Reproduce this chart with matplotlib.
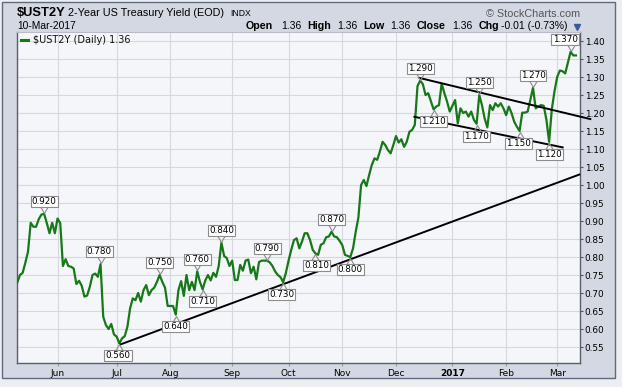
import numpy as np
import pandas as pd
import matplotlib
matplotlib.use("Agg")
import matplotlib.pyplot as plt
from matplotlib.path import Path
from matplotlib.patches import Rectangle

W, H = 622, 387

# ---- data: $UST2Y daily close, 2016-05-10 .. 2017-03-10 (bond-market trading days) ----
start_date, end_date = "2016-05-10", "2017-03-10"
holidays = ["2016-05-30", "2016-07-04", "2016-09-05", "2016-10-10", "2016-11-11",
            "2016-11-24", "2016-12-26", "2017-01-02", "2017-01-16", "2017-02-20"]
ust2y = [
    0.729, 0.750, 0.756, 0.784, 0.815, 0.895, 0.884, 0.884, 0.905, 0.918,  # 0
    0.920, 0.894, 0.866, 0.895, 0.866, 0.907, 0.894, 0.775, 0.794, 0.775,  # 10
    0.773, 0.768, 0.725, 0.734, 0.720, 0.690, 0.693, 0.717, 0.750, 0.754,  # 20
    0.745, 0.780, 0.634, 0.611, 0.600, 0.614, 0.585, 0.579, 0.560, 0.574,  # 30
    0.580, 0.606, 0.657, 0.685, 0.680, 0.700, 0.676, 0.708, 0.722, 0.694,  # 40
    0.708, 0.715, 0.731, 0.750, 0.731, 0.715, 0.664, 0.664, 0.664, 0.640,  # 50
    0.708, 0.733, 0.692, 0.750, 0.708, 0.731, 0.708, 0.760, 0.731, 0.710,  # 60
    0.735, 0.750, 0.735, 0.756, 0.745, 0.775, 0.840, 0.803, 0.797, 0.775,  # 70
    0.790, 0.736, 0.736, 0.778, 0.762, 0.790, 0.793, 0.755, 0.773, 0.738,  # 80
    0.786, 0.790, 0.790, 0.790, 0.785, 0.775, 0.760, 0.750, 0.744, 0.730,  # 90
    0.756, 0.790, 0.820, 0.847, 0.852, 0.824, 0.843, 0.866, 0.866, 0.847,  # 100
    0.820, 0.810, 0.806, 0.834, 0.838, 0.855, 0.857, 0.870, 0.857, 0.855,  # 110
    0.845, 0.833, 0.806, 0.803, 0.800, 0.824, 0.870, 0.910, 1.000, 1.014,  # 120
    0.997, 1.028, 1.056, 1.074, 1.070, 1.093, 1.120, 1.111, 1.097, 1.088,  # 130
    1.111, 1.136, 1.118, 1.127, 1.106, 1.120, 1.148, 1.153, 1.167, 1.275,  # 140
    1.290, 1.280, 1.250, 1.255, 1.232, 1.210, 1.218, 1.222, 1.282, 1.255,  # 150
    1.232, 1.204, 1.220, 1.236, 1.171, 1.213, 1.200, 1.204, 1.190, 1.204,  # 160
    1.181, 1.170, 1.250, 1.222, 1.185, 1.160, 1.222, 1.208, 1.227, 1.218,  # 170
    1.227, 1.213, 1.194, 1.218, 1.200, 1.176, 1.162, 1.150, 1.201, 1.201,  # 180
    1.204, 1.236, 1.270, 1.213, 1.218, 1.222, 1.220, 1.181, 1.120, 1.210,  # 190
    1.260, 1.300, 1.318, 1.316, 1.310, 1.340, 1.370, 1.360, 1.360,          # 200
]

# chartist annotations (trading-day index, text, above/below, horizontal shift in pt)
label_day = [10, 31, 38, 53, 59, 67, 69, 76, 93, 99, 111, 117, 124,
             150, 155, 172, 171, 187, 192, 198, 206]
label_text = ["0.920", "0.780", "0.560", "0.750", "0.640", "0.760", "0.710", "0.840",
              "0.790", "0.730", "0.810", "0.870", "0.800", "1.290", "1.210", "1.250",
              "1.170", "1.150", "1.270", "1.120", "1.370"]
label_up = [1, 1, 0, 1, 0, 1, 0, 1, 1, 0, 0, 1, 0, 1, 0, 1, 0, 0, 1, 0, 1]
label_dx = [0, -1, -1, 0, 0, 0, 0, 0, 0, -1, 1, 0, 0, 0, 0, 0, 0, -1, 0, 0, -4]

# drawn trendlines (trading-day index, yield)
trend_x0 = [38.0, 149.4, 147.5]
trend_y0 = [0.556, 1.298, 1.190]
trend_x1 = [209.6, 213.7, 203.4]
trend_y1 = [1.030, 1.1825, 1.104]

yticks = [0.55, 0.60, 0.65, 0.70, 0.75, 0.80, 0.85, 0.90, 0.95, 1.00,
          1.05, 1.10, 1.15, 1.20, 1.25, 1.30, 1.35, 1.40]
month_starts = ["2016-06-01", "2016-07-01", "2016-08-01", "2016-09-01", "2016-10-01",
                "2016-11-01", "2016-12-01", "2017-01-01", "2017-02-01", "2017-03-01"]
month_names = ["Jun", "Jul", "Aug", "Sep", "Oct", "Nov", "Dec", "2017", "Feb", "Mar"]

GREEN, BG, PANEL, GRID, FRAME = "#177817", "#f4f6fa", "#d3d8e2", "#d5d8e0", "#5a5e6a"

dates = pd.bdate_range(start_date, end_date, freq="C", holidays=holidays)
n = min(len(dates), len(ust2y))
dates = dates[:n]
x = np.arange(n)
y = np.array(ust2y[:n])
tick_pos = [int(np.searchsorted(dates.values, np.datetime64(m))) for m in month_starts]

fig = plt.figure(figsize=(W / 100, H / 100), dpi=100, facecolor="#eceef1")
fig.patches.append(Rectangle((2 / W, 1 - 378 / H), 613 / W, 376 / H, transform=fig.transFigure,
                             fc=PANEL, ec="#5f6b7d", lw=1, zorder=-10))


def ftext(px, py, s, **kw):
    return fig.text(px / W, 1 - py / H, s, va="center", **kw)


ax = fig.add_axes([17 / W, 1 - 363 / H, 563 / W, 331 / H])
ax.set_facecolor(BG)
ax.set_xlim(-0.1, 209.5)
ax.set_ylim(0.5056, 1.425)

ax.set_yticks(yticks)
ax.set_yticklabels([f"{v:.2f}" for v in yticks])
ax.yaxis.tick_right()
ax.set_xticks(tick_pos)
ax.set_xticklabels(month_names)
for lbl in ax.get_xticklabels():
    if lbl.get_text() == "2017":
        lbl.set_fontweight("bold")
        lbl.set_fontsize(7)
ax.grid(True, color=GRID, lw=0.8)
ax.set_axisbelow(True)
ax.tick_params(axis="y", direction="out", length=2.5, pad=1, labelsize=6.4, color="#555")
ax.tick_params(axis="x", direction="out", length=2.5, pad=1.5, labelsize=6.5, color="#999")
for side in ("left", "bottom", "right"):
    ax.spines[side].set_color(FRAME)
    ax.spines[side].set_linewidth(1)
ax.spines["top"].set_color("#b8bcc6")

ax.plot(x, y, color=GREEN, lw=1.6, zorder=3, solid_joinstyle="round")

for x0, y0, x1, y1 in zip(trend_x0, trend_y0, trend_x1, trend_y1):
    ax.plot([x0, x1], [y0, y1], color="black", lw=1.4, zorder=4, clip_on=False,
            solid_capstyle="butt")

v_up = Path([(-1.0, 2.0), (0.0, 0.3), (1.0, 2.0)], [Path.MOVETO, Path.LINETO, Path.LINETO])
v_dn = Path([(-1.0, -2.0), (0.0, -0.3), (1.0, -2.0)], [Path.MOVETO, Path.LINETO, Path.LINETO])
for d, txt, up, dx in zip(label_day, label_text, label_up, label_dx):
    v = y[d]
    ax.plot(d, v, marker=v_up if up else v_dn, ms=10, mfc="none", mec="#8c8c8c",
            mew=0.8, zorder=5, clip_on=False)
    ax.annotate(txt, xy=(d, v), xytext=(dx, 5.6 if up else -5.6), textcoords="offset points",
                ha="center", va="bottom" if up else "top", fontsize=6.3,
                bbox=dict(boxstyle="square,pad=0.12", fc="white", ec="#8c8c8c", lw=0.8),
                zorder=6, annotation_clip=False)

# legend
ax.plot([0.0066, 0.02], [0.977, 0.977], transform=ax.transAxes, color=GREEN, lw=2.2,
        clip_on=False)
ftext(33, 40, "$UST2Y (Daily) 1.36", fontsize=7, color="#111")

# header
ftext(17, 13, "$UST2Y", fontsize=9.3, fontweight="bold", family="Liberation Sans")
ftext(68, 13.5, "2-Year US Treasury Yield (EOD)", fontsize=7.8, family="Liberation Sans")
ftext(230, 14, "INDX", fontsize=6.2, family="Liberation Sans")
ftext(580, 14, "\u00a9 StockCharts.com", fontsize=7.8, color="#555", ha="right",
      family="Liberation Sans")
ftext(17, 26, "10-Mar-2017", fontsize=7.4, family="Liberation Sans")
ohlc = [(246, "Open", "bold"), (281, "1.36", "normal"), (307, "High", "bold"),
        (337, "1.36", "normal"), (363, "Low", "bold"), (390, "1.36", "normal"),
        (417, "Close", "bold"), (452, "1.36", "normal"), (479, "Chg", "bold"),
        (501, "-0.01 (-0.73%)", "normal")]
for px, s, wt in ohlc:
    ftext(px, 26, s, fontsize=7.7 if wt == "bold" else 7.5, fontweight=wt,
          family="Liberation Sans")
fig.lines.append(plt.Line2D([577 / W], [1 - 27 / H], marker="v", ms=4.5, color="#3b5a9a",
                            transform=fig.transFigure))

fig.savefig("out.png", dpi=100, facecolor=fig.get_facecolor())
